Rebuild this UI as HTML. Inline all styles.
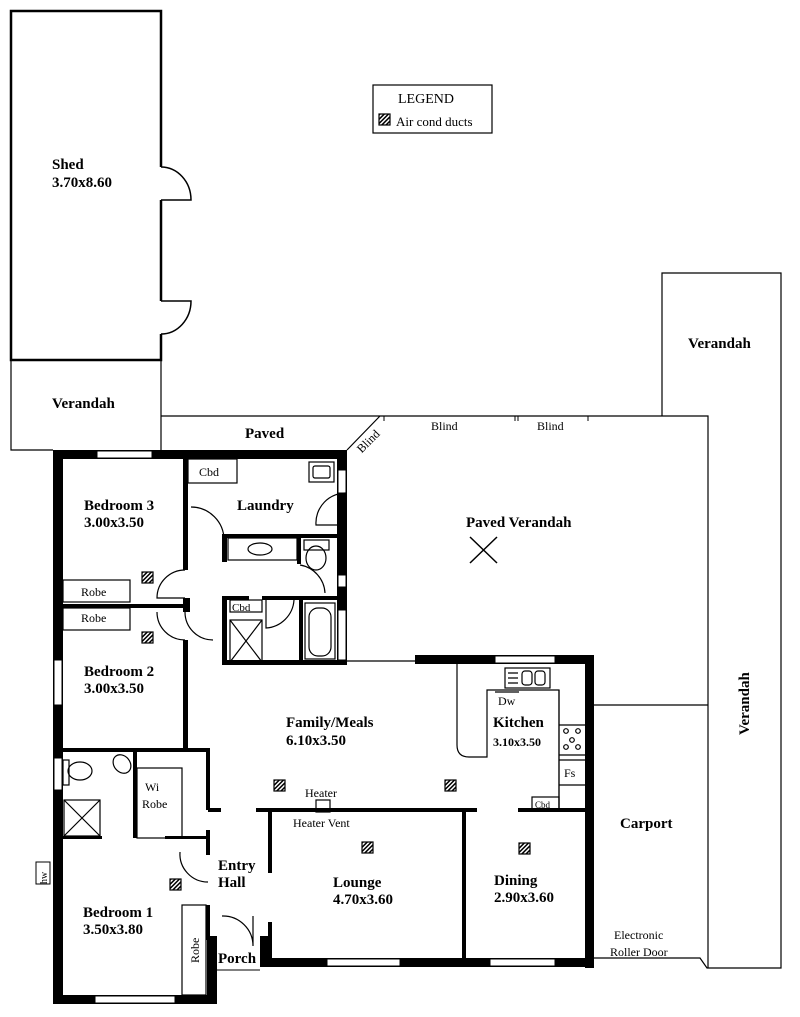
<!DOCTYPE html>
<html><head><meta charset="utf-8"><style>
html,body{margin:0;padding:0;background:#fff;}
svg{display:block;}
text{font-family:"Liberation Serif",serif;fill:#000;}
.b{font-weight:bold;font-size:15px;}
.s{font-size:12px;}
</style></head><body>
<svg width="800" height="1017" viewBox="0 0 800 1017" xmlns="http://www.w3.org/2000/svg">
<defs>
<pattern id="h" width="3" height="3" patternUnits="userSpaceOnUse" patternTransform="rotate(45)">
<rect width="3" height="3" fill="#fff"/><rect width="1.5" height="3" fill="#000"/></pattern>
<g id="d"><rect x="0" y="0" width="11" height="11" fill="url(#h)" stroke="#000" stroke-width="1.2"/></g>
</defs>
<g fill="none" stroke="#000">
<!-- Shed -->
<path d="M161,167 V11 H11 V360 H161 V334 M161,301 V200" stroke-width="2.5"/>
<path d="M161,167 A30,33 0 0 1 191,200 H161" stroke-width="1.5"/>
<path d="M161,334 A30,33 0 0 0 191,301 H161" stroke-width="1.5"/>
<!-- shed verandah -->
<path d="M11,360 V450 H53 M161,360 V450" stroke-width="1.2"/>
<!-- paved -->
<path d="M161,416 H708 V968 M347,450 L380,416" stroke-width="1.2"/>
<path d="M384,416 v5 M515,416 v5 M518,416 v5 M588,416 v5" stroke-width="1"/>
<!-- right verandah -->
<path d="M662,416 V273 H781 V968 H707 L700,958 H594 M594,705 H708" stroke-width="1.2"/>
<!-- sliding line -->
<path d="M347,661 H415" stroke-width="1.2"/>
<!-- legend -->
<rect x="373" y="85" width="119" height="48" stroke-width="1.2"/>
</g>

<!-- Thick exterior walls -->
<g fill="#000">
<rect x="53" y="450" width="294" height="9"/>
<rect x="53" y="450" width="10" height="554"/>
<rect x="53" y="995" width="162" height="9"/>
<rect x="207" y="936" width="10" height="68"/>
<rect x="260" y="936" width="10" height="31"/>
<rect x="260" y="958" width="334" height="9"/>
<rect x="585" y="655" width="9" height="313"/>
<rect x="415" y="655" width="179" height="9"/>
<rect x="337" y="450" width="10" height="215"/>
<rect x="222" y="660" width="125" height="5"/>
</g>
<!-- windows -->
<g fill="#fff" stroke="#000" stroke-width="1">
<rect x="97" y="451" width="55" height="7"/>
<rect x="54" y="660" width="8" height="45"/>
<rect x="54" y="758" width="8" height="32"/>
<rect x="95" y="996" width="80" height="7"/>
<rect x="327" y="959" width="73" height="7"/>
<rect x="490" y="959" width="65" height="7"/>
<rect x="495" y="656" width="60" height="7"/>
<rect x="338" y="470" width="8" height="23"/>
<rect x="338" y="575" width="8" height="12"/>
<rect x="338" y="610" width="8" height="50"/>
<rect x="217" y="962" width="43" height="8" stroke="none"/>
</g>
<path d="M217,970 H260" stroke="#000" stroke-width="1"/>
<rect x="36" y="862" width="14" height="22" fill="#fff" stroke="#000" stroke-width="1"/>

<!-- interior walls -->
<g fill="#000">
<rect x="183" y="458" width="5" height="112"/>
<rect x="183" y="598" width="7" height="14"/>
<rect x="62" y="604" width="128" height="4"/>
<rect x="183" y="640" width="5" height="112"/>
<rect x="62" y="748" width="148" height="4"/>
<rect x="133" y="752" width="4" height="86"/>
<rect x="206" y="750" width="4" height="60"/>
<rect x="206" y="830" width="4" height="25"/>
<rect x="206" y="905" width="4" height="35"/>
<rect x="208" y="808" width="13" height="4"/>
<rect x="256" y="808" width="221" height="4"/>
<rect x="268" y="808" width="4" height="65"/>
<rect x="268" y="922" width="4" height="40"/>
<rect x="462" y="808" width="4" height="152"/>
<rect x="518" y="808" width="70" height="4"/>
<rect x="165" y="836" width="45" height="3"/>
<rect x="62" y="836" width="40" height="3"/>
<rect x="222" y="534" width="116" height="4"/>
<rect x="222" y="534" width="5" height="28"/>
<rect x="222" y="597" width="5" height="66"/>
<rect x="297" y="534" width="4" height="30"/>
<rect x="262" y="596" width="76" height="4"/>
<rect x="222" y="596" width="27" height="4"/>
<rect x="299" y="596" width="4" height="66"/>
</g>
<g fill="none" stroke="#000" stroke-width="1.2">
<!-- robes -->
<rect x="63" y="580" width="67" height="22"/>
<rect x="63" y="608" width="67" height="22"/>
<rect x="188" y="459" width="49" height="24"/>
<rect x="137" y="768" width="45" height="70"/>
<rect x="182" y="905" width="24" height="90"/>
<!-- doors -->
<path d="M191,507 A33,33 0 0 1 224,540"/>
<path d="M185,570 A28,28 0 0 0 157,598 H185"/>
<path d="M185,612 A28,28 0 0 0 213,640"/>
<path d="M157,612 A28,28 0 0 0 185,640"/>
<path d="M347,493 A30,30 0 0 0 316,525 H347"/>
<path d="M300,565 A30,30 0 0 1 325,593"/>
<path d="M294,600 A30,30 0 0 1 266,628 V600"/>
<path d="M180,852 A28,28 0 0 0 208,882"/>
<path d="M222,916 A30,30 0 0 1 253,946 V916"/>
<!-- bathroom fixtures -->
<rect x="228" y="538" width="69" height="22"/>
<ellipse cx="260" cy="549" rx="12" ry="6"/>
<rect x="304" y="540" width="25" height="10"/>
<ellipse cx="316" cy="558" rx="10" ry="12"/>
<rect x="309" y="462" width="25" height="20"/>
<rect x="313" y="466" width="17" height="12" rx="2"/>
<rect x="230" y="600" width="32" height="12"/>
<rect x="230" y="620" width="32" height="42"/>
<path d="M230,620 L262,662 M262,620 L230,662"/>
<rect x="305" y="603" width="30" height="56"/>
<rect x="309" y="608" width="22" height="48" rx="9"/>
<!-- ensuite -->
<rect x="63" y="760" width="6" height="25"/>
<ellipse cx="80" cy="771" rx="12" ry="9"/>
<ellipse cx="122" cy="764" rx="8" ry="10" transform="rotate(-40 122 764)"/>
<rect x="64" y="800" width="36" height="36"/>
<path d="M64,800 L100,836 M100,800 L64,836"/>
<!-- kitchen -->
<path d="M457,664 V745 Q457,757 469,757 H487 V690 H559 V810"/>
<path d="M559,810 V690 M585,725 H559 M559,760 H585 M559,785 H585 M559,755 H585"/>
<rect x="505" y="668" width="45" height="20"/>
<path d="M508,673 h10 M508,678 h10 M508,683 h10"/>
<rect x="522" y="671" width="10" height="14" rx="3"/>
<rect x="535" y="671" width="10" height="14" rx="3"/>
<circle cx="566" cy="731" r="2.3"/><circle cx="578" cy="731" r="2.3"/>
<circle cx="572" cy="740" r="2.3"/><circle cx="566" cy="747" r="2.3"/><circle cx="578" cy="747" r="2.3"/>
<rect x="532" y="797" width="27" height="13"/>
<path d="M495,692 H519"/>
<!-- heater -->
<rect x="316" y="800" width="14" height="12"/>
<!-- fan -->
<path d="M470,537 L497,563 M497,537 L470,563" stroke-width="1.5"/>
</g>
<!-- ducts -->
<use href="#d" x="379" y="114"/>
<use href="#d" x="142" y="572"/>
<use href="#d" x="142" y="632"/>
<use href="#d" x="170" y="879"/>
<use href="#d" x="274" y="780"/>
<use href="#d" x="445" y="780"/>
<use href="#d" x="362" y="842"/>
<use href="#d" x="519" y="843"/>

<!-- text -->
<text x="200" y="102" font-size="15" x2="0">&#8203;</text>
<text class="s" x="398" y="103" font-size="14" style="font-size:14px">LEGEND</text>
<text class="s" x="396" y="126" style="font-size:13px">Air cond ducts</text>
<text class="b" x="52" y="169">Shed</text>
<text class="b" x="52" y="187">3.70x8.60</text>
<text class="b" x="52" y="408">Verandah</text>
<text class="b" x="245" y="438">Paved</text>
<text class="b" x="688" y="348">Verandah</text>
<text class="s" x="431" y="430">Blind</text>
<text class="s" x="537" y="430">Blind</text>
<text class="s" x="356" y="450" transform="rotate(-45 363 445)">Blind</text>
<text class="b" x="466" y="527">Paved Verandah</text>
<text class="b" x="84" y="510">Bedroom 3</text>
<text class="b" x="84" y="527">3.00x3.50</text>
<text class="b" x="237" y="510">Laundry</text>
<text class="s" x="199" y="476">Cbd</text>
<text class="s" x="232" y="611" style="font-size:11px">Cbd</text>
<text class="s" x="81" y="596">Robe</text>
<text class="s" x="81" y="622">Robe</text>
<text class="b" x="84" y="676">Bedroom 2</text>
<text class="b" x="84" y="693">3.00x3.50</text>
<text class="b" x="286" y="727">Family/Meals</text>
<text class="b" x="286" y="745">6.10x3.50</text>
<text class="s" x="498" y="705">Dw</text>
<text class="b" x="493" y="727">Kitchen</text>
<text class="b" x="493" y="746" style="font-size:12px">3.10x3.50</text>
<text class="s" x="564" y="777">Fs</text>
<text class="s" x="535" y="808" style="font-size:9px">Cbd</text>
<text class="s" x="145" y="791">Wi</text>
<text class="s" x="142" y="808">Robe</text>
<text class="s" x="305" y="797">Heater</text>
<text class="s" x="293" y="827">Heater Vent</text>
<text class="b" x="218" y="870">Entry</text>
<text class="b" x="218" y="887">Hall</text>
<text class="b" x="333" y="887">Lounge</text>
<text class="b" x="333" y="904">4.70x3.60</text>
<text class="b" x="494" y="885">Dining</text>
<text class="b" x="494" y="902">2.90x3.60</text>
<text class="b" x="620" y="828">Carport</text>
<text class="s" x="614" y="939">Electronic</text>
<text class="s" x="610" y="956">Roller Door</text>
<text class="b" x="83" y="917">Bedroom 1</text>
<text class="b" x="83" y="934">3.50x3.80</text>
<text class="b" x="218" y="963">Porch</text>
<text class="s" x="199" y="963" transform="rotate(-90 199 963)" style="font-size:12px">Robe</text>
<text class="s" x="47" y="884" transform="rotate(-90 47 884)" style="font-size:10px">hw</text>
<text class="b" x="749" y="735" transform="rotate(-90 749 735)">Verandah</text>
</svg>
</body></html>
